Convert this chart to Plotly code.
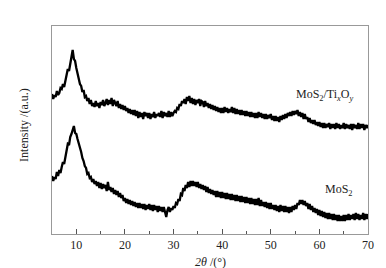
import plotly.graph_objects as go

# 2theta grid (degrees), step 0.25 from 5 to 70
two_theta = [5 + 0.25 * i for i in range(261)]

# MoS2/TixOy (upper pattern), arbitrary intensity units (4 values per degree)
mos2_tixoy = [
    140, 135, 139, 137,  143, 139, 141, 146,  145, 150, 147, 154,  158, 165, 163, 171,
    176, 184, 175, 173,  166, 160, 157, 150,  148, 142, 144, 137,  138, 133, 136, 130,
    134, 128, 131, 127,  133, 128, 131, 126,  132, 129, 134, 128,  131, 135, 129, 134,
    130, 136, 128, 134,  131, 128, 133, 126,  130, 125, 129, 124,  128, 123, 126, 121,
    125, 120, 124, 119,  124, 118, 123, 116,  122, 117, 121, 115,  122, 118, 121, 116,
    121, 115, 120, 117,  122, 116, 120, 118,  121, 117, 123, 116,  122, 118, 121, 117,
    123, 117, 122, 118,  121, 123, 122, 126,  125, 130, 128, 133,  131, 135, 130, 137,
    133, 138, 131, 136,  130, 135, 129, 134,  131, 135, 128, 133,  132, 127, 133, 128,
    131, 126, 130, 125,  129, 124, 128, 123,  127, 122, 126, 121,  126, 121, 127, 122,
    126, 121, 125, 122,  127, 121, 126, 120,  125, 120, 124, 119,  124, 119, 123, 118,
    123, 118, 122, 117,  122, 117, 121, 116,  121, 116, 122, 117,  121, 116, 120, 115,
    120, 115, 119, 116,  120, 114, 118, 113,  118, 113, 117, 112,  118, 114, 119, 115,
    120, 116, 121, 118,  122, 118, 123, 119,  123, 120, 124, 118,  122, 117, 121, 115,
    120, 115, 117, 112,  116, 111, 114, 110,  114, 109, 112, 108,  112, 107, 111, 106,
    111, 106, 110, 107,  111, 105, 110, 106,  110, 105, 111, 106,  110, 105, 109, 106,
    111, 105, 110, 106,  109, 105, 110, 104,  110, 106, 109, 105,  111, 105, 110, 106,
    110, 104, 109, 106,  109,
]

# MoS2 (lower pattern)
mos2 = [
    58, 53, 57, 55,  62, 58, 64, 61,  67, 72, 70, 78,  84, 90, 89, 97,
    100, 104, 108, 101,  100, 95, 91, 86,  82, 76, 73, 68,  66, 60, 61, 56,
    57, 52, 55, 50,  53, 48, 52, 46,  51, 45, 50, 46,  49, 43, 52, 44,
    47, 42, 46, 40,  44, 39, 43, 37,  41, 36, 39, 33,  36, 31, 35, 30,
    34, 29, 33, 28,  32, 27, 31, 26,  31, 26, 30, 25,  30, 24, 29, 25,
    30, 24, 29, 23,  29, 24, 28, 22,  28, 23, 27, 22,  27, 22, 17, 24,
    27, 22, 26, 24,  28, 26, 31, 30,  35, 33, 40, 39,  46, 43, 49, 46,
    52, 47, 53, 48,  53, 48, 52, 47,  52, 46, 50, 45,  49, 44, 48, 42,
    47, 41, 45, 40,  44, 39, 43, 37,  43, 37, 42, 36,  42, 36, 41, 35,
    41, 35, 40, 34,  40, 34, 39, 33,  39, 33, 38, 32,  38, 32, 37, 31,
    37, 31, 36, 30,  36, 30, 35, 29,  35, 29, 36, 28,  34, 28, 32, 27,
    32, 26, 31, 25,  31, 25, 29, 24,  29, 23, 28, 22,  29, 23, 28, 22,
    28, 22, 27, 21,  27, 22, 28, 24,  29, 25, 31, 29,  34, 30, 34, 29,
    33, 28, 31, 25,  30, 24, 28, 22,  26, 21, 25, 19,  24, 18, 23, 17,
    22, 16, 21, 15,  21, 15, 20, 14,  20, 14, 19, 13,  19, 13, 18, 13,
    19, 13, 19, 14,  20, 14, 19, 15,  20, 14, 21, 15,  20, 14, 19, 15,
    21, 14, 20, 15,  20,
]

assert len(two_theta) == len(mos2_tixoy) == len(mos2)

x_ticks = [10, 20, 30, 40, 50, 60, 70]

font_family = "Liberation Serif, Times New Roman, serif"

fig = go.Figure()
fig.add_trace(go.Scatter(x=two_theta, y=mos2_tixoy, mode="lines",
                         line=dict(color="black", width=2.3), showlegend=False))
fig.add_trace(go.Scatter(x=two_theta, y=mos2, mode="lines",
                         line=dict(color="black", width=2.3), showlegend=False))

fig.update_layout(
    width=386, height=268,
    margin=dict(l=44, r=26, t=18, b=42),
    paper_bgcolor="white", plot_bgcolor="white",
    font=dict(family=font_family, size=12, color="#222"),
    xaxis=dict(range=[5, 70], tickvals=x_ticks, ticks="inside", ticklen=5,
               tickcolor="#555", showline=True, linecolor="#999", linewidth=1,
               mirror=True, showgrid=False, zeroline=False,
               minor=dict(ticks="inside", ticklen=3, dtick=5, tick0=5, tickcolor="#555"),
               tickfont=dict(size=12)),
    yaxis=dict(range=[0, 208], showticklabels=False, ticks="", showline=True,
               linecolor="#999", linewidth=1, mirror=True, showgrid=False, zeroline=False),
    annotations=[
        dict(text="Intensity /(a.u.)", xref="paper", yref="paper", x=-0.089, y=0.524,
             textangle=-90, showarrow=False, xanchor="center", yanchor="middle",
             font=dict(size=12)),
        dict(text="<i>2θ</i> /(°)", xref="paper", yref="paper", x=0.5, y=-0.135,
             showarrow=False, xanchor="center", yanchor="middle", font=dict(size=12)),
        dict(text="MoS<sub>2</sub>/Ti<sub><i>x</i></sub>O<sub><i>y</i></sub>", xref="x", yref="y",
             x=61.1, y=139, showarrow=False, xanchor="center", yanchor="middle",
             font=dict(size=12)),
        dict(text="MoS<sub>2</sub>", xref="x", yref="y", x=64.0, y=44, showarrow=False,
             xanchor="center", yanchor="middle", font=dict(size=12)),
    ],
)

fig.write_html("out.html")
